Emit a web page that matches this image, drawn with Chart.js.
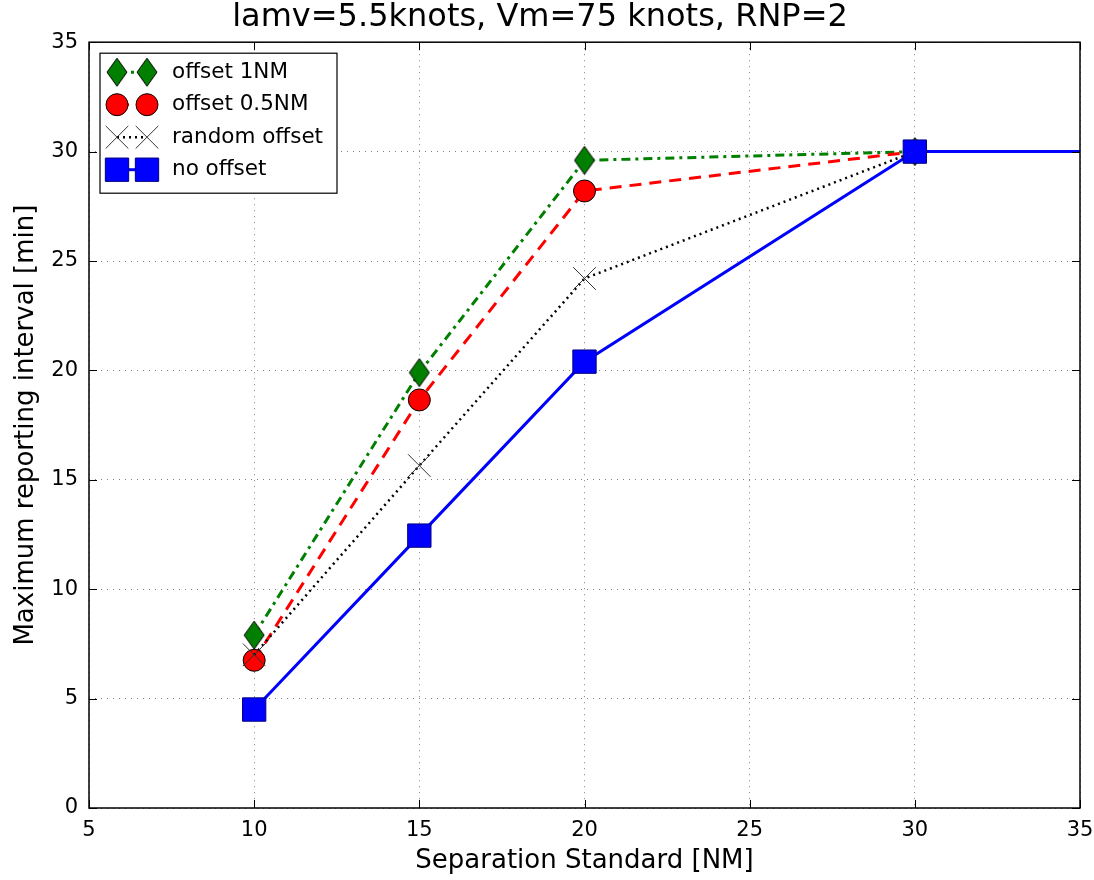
<!DOCTYPE html>
<html>

<head>
    <title>Maximum reporting interval</title>
    <script src="https://cdn.jsdelivr.net/npm/chart.js"></script>
    <style>
        html, body {
            margin: 0;
            padding: 0;
            background: #fff;
        }

        .chart-container {
            width: 1094px;
            height: 880px;
        }
    </style>
</head>

<body>
    <div class="chart-container">
        <canvas id="chart1"></canvas>
    </div>

    <script>
        const separation = [10, 15, 20, 30];
        const offset1NM = [7.9, 19.9, 29.6, 30];
        const offset05NM = [6.75, 18.65, 28.2, 30];
        const randomOffset = [7.0, 15.65, 24.2, 30];
        const noOffsetSep = [10, 15, 20, 30, 40];
        const noOffset = [4.5, 12.45, 20.4, 30, 30];
        const xTicks = [5, 10, 15, 20, 25, 30, 35];
        const yTicks = [0, 5, 10, 15, 20, 25, 30, 35];

        const FONT = "'DejaVu Sans', sans-serif";

        // thin diamond marker like matplotlib 'd'
        function thinDiamond() {
            const c = document.createElement('canvas');
            c.width = 22;
            c.height = 30;
            const g = c.getContext('2d');
            g.beginPath();
            g.moveTo(11, 1);
            g.lineTo(21, 15);
            g.lineTo(11, 29);
            g.lineTo(1, 15);
            g.closePath();
            g.fillStyle = '#007f00';
            g.fill();
            g.lineWidth = 1;
            g.strokeStyle = '#000';
            g.stroke();
            return c;
        }

        const pts = (xs, ys) => xs.map((x, i) => ({ x: x, y: ys[i] }));

        const datasets = [{
            label: 'offset 1NM',
            data: pts(separation, offset1NM),
            borderColor: '#007f00',
            borderWidth: 3,
            borderDash: [9, 5, 3, 5],
            pointStyle: thinDiamond(),
            pointRadius: 11,
            order: 3
        }, {
            label: 'offset 0.5NM',
            data: pts(separation, offset05NM),
            borderColor: '#ff0000',
            borderWidth: 3,
            borderDash: [12, 8],
            pointStyle: 'circle',
            pointRadius: 11,
            pointBackgroundColor: '#ff0000',
            pointBorderColor: '#000',
            pointBorderWidth: 1,
            order: 2
        }, {
            label: 'random offset',
            data: pts(separation, randomOffset),
            borderColor: '#000',
            borderWidth: 2.5,
            borderDash: [2, 4],
            pointStyle: 'crossRot',
            pointRadius: 16,
            pointBorderColor: '#333',
            pointBorderWidth: 1,
            order: 1
        }, {
            label: 'no offset',
            data: pts(noOffsetSep, noOffset),
            borderColor: '#0000ff',
            borderWidth: 3,
            pointStyle: 'rect',
            pointRadius: 16.5,
            pointBackgroundColor: '#0000ff',
            pointBorderColor: '#000080',
            pointBorderWidth: 1,
            order: 0
        }];

        const framePlugin = {
            id: 'frame',
            afterDraw(chart) {
                const ctx = chart.ctx;
                const a = chart.chartArea;
                const xs = chart.scales.x, ys = chart.scales.y;
                ctx.save();
                ctx.strokeStyle = '#000';
                ctx.lineWidth = 1;
                // inward ticks
                ctx.beginPath();
                xTicks.forEach(v => {
                    const px = Math.round(xs.getPixelForValue(v)) + 0.5;
                    ctx.moveTo(px, a.bottom); ctx.lineTo(px, a.bottom - 8);
                    ctx.moveTo(px, a.top); ctx.lineTo(px, a.top + 8);
                });
                yTicks.forEach(v => {
                    const py = Math.round(ys.getPixelForValue(v)) + 0.5;
                    ctx.moveTo(a.left, py); ctx.lineTo(a.left + 8, py);
                    ctx.moveTo(a.right, py); ctx.lineTo(a.right - 8, py);
                });
                ctx.stroke();
                ctx.lineWidth = 1.5;
                ctx.strokeRect(a.left, a.top, a.right - a.left, a.bottom - a.top);

                // legend box, upper left
                const bx = a.left + 11, by = a.top + 11, bw = 237, bh = 140;
                ctx.fillStyle = '#fff';
                ctx.fillRect(bx, by, bw, bh);
                ctx.lineWidth = 1.2;
                ctx.strokeRect(bx, by, bw, bh);
                ctx.font = '21.5px ' + FONT;
                ctx.textBaseline = 'middle';
                chart.data.datasets.forEach((ds, i) => {
                    const cy = by + 19 + i * 32.5;
                    const x1 = bx + 17, x2 = bx + 47;
                    ctx.save();
                    ctx.strokeStyle = ds.borderColor;
                    ctx.lineWidth = ds.borderWidth;
                    ctx.setLineDash(ds.borderDash || []);
                    ctx.beginPath();
                    ctx.moveTo(x1, cy); ctx.lineTo(x2, cy);
                    ctx.stroke();
                    ctx.restore();
                    const opts = {
                        pointStyle: ds.pointStyle,
                        radius: ds.pointRadius,
                        rotation: 0,
                        borderWidth: ds.pointBorderWidth || 1,
                    };
                    ctx.save();
                    ctx.fillStyle = ds.pointBackgroundColor || ds.borderColor;
                    ctx.strokeStyle = ds.pointBorderColor || ds.borderColor;
                    ctx.lineWidth = opts.borderWidth;
                    Chart.helpers.drawPoint(ctx, opts, x1, cy);
                    Chart.helpers.drawPoint(ctx, opts, x2, cy);
                    ctx.restore();
                    ctx.fillStyle = '#000';
                    ctx.fillText(ds.label, bx + 72, cy);
                });
                ctx.restore();
            }
        };

        new Chart(document.getElementById('chart1'), {
            type: 'line',
            data: { datasets: datasets },
            options: {
                responsive: true,
                maintainAspectRatio: false,
                animation: false,
                layout: { autoPadding: false, padding: { left: 0, right: 14, top: 0, bottom: 0 } },
                plugins: {
                    legend: { display: false },
                    tooltip: { enabled: false },
                    title: {
                        display: true,
                        text: 'lamv=5.5knots, Vm=75 knots, RNP=2',
                        color: '#000',
                        font: { family: FONT, size: 32, weight: 'normal', lineHeight: 1.1 },
                        padding: { top: 0, bottom: 7 }
                    }
                },
                scales: {
                    x: {
                        type: 'linear',
                        min: 5,
                        max: 35,
                        afterFit: s => {
                            s.height = 72;
                            s.paddingLeft = 0;
                            s.paddingRight = 0;
                        },
                        afterBuildTicks: s => { s.ticks = xTicks.map(v => ({ value: v })); },
                        ticks: { color: '#000', padding: 10, font: { family: FONT, size: 21 } },
                        grid: { color: 'rgba(0,0,0,0.5)', borderDash: [1, 5], drawTicks: false },
                        border: { display: false, dash: [1, 5] },
                        title: {
                            display: true,
                            text: 'Separation Standard [NM]',
                            color: '#000',
                            font: { family: FONT, size: 26, lineHeight: 1.2 },
                            padding: { top: 0, bottom: 3 }
                        }
                    },
                    y: {
                        min: 0,
                        max: 35,
                        afterFit: s => {
                            s.width = 89;
                            s.paddingTop = 0;
                            s.paddingBottom = 0;
                        },
                        afterBuildTicks: s => { s.ticks = yTicks.map(v => ({ value: v })); },
                        ticks: { color: '#000', padding: 11, font: { family: FONT, size: 21 } },
                        grid: { color: 'rgba(0,0,0,0.5)', borderDash: [1, 5], drawTicks: false },
                        border: { display: false, dash: [1, 5] },
                        title: {
                            display: true,
                            text: 'Maximum reporting interval [min]',
                            color: '#000',
                            font: { family: FONT, size: 26, lineHeight: 1.2 },
                            padding: { top: 11, bottom: 0 }
                        }
                    }
                }
            },
            plugins: [framePlugin]
        });
    </script>
</body>

</html>
